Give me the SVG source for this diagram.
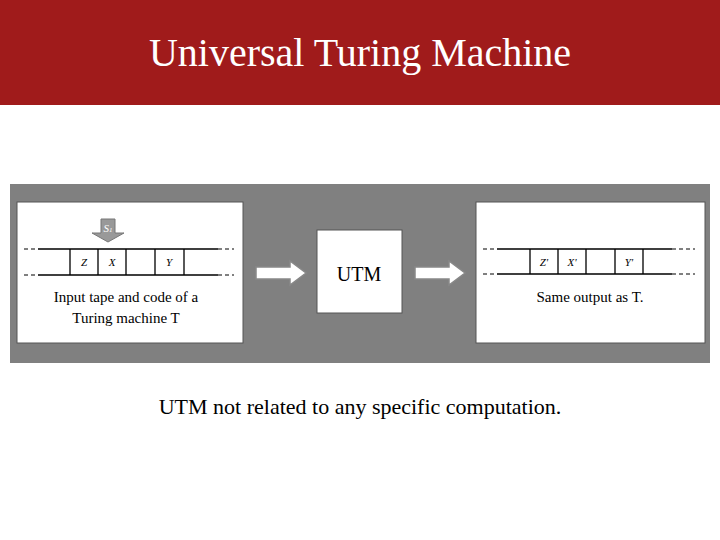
<svg xmlns="http://www.w3.org/2000/svg" width="720" height="540" viewBox="0 0 720 540">
<style>
.t{font-family:"Liberation Serif",serif;fill:#000}
.tape{stroke:#000;stroke-width:1.3;fill:none}
.dash{stroke:#000;stroke-width:1;stroke-dasharray:4,3;fill:none}
.arr{fill:#fff;stroke:#888;stroke-width:1.5}
.it{font-family:"Liberation Serif",serif;font-style:italic;font-size:11px}
</style>
<rect width="720" height="540" fill="#fff"/>
<rect x="0" y="0" width="720" height="105" fill="#a01b1b"/>
<text x="360" y="66" text-anchor="middle" class="t" font-size="40" fill="#fff" style="fill:#fff">Universal Turing Machine</text>
<rect x="10" y="184" width="700" height="179" fill="#808080"/>
<g id="input">
<rect x="17" y="202" width="226" height="141" fill="#fff" stroke="#555"/>
<path class="tape" d="M38 249H218M38 275H218M70 249V275M98 249V275M126 249V275M155 249V275M184 249V275"/>
<path class="dash" d="M24 249H38M218 249H234M24 275H38M218 275H234"/>
<path d="M101 219H115V233H124L108 242L92 233H101Z" fill="#999" stroke="#777"/>
<text x="108" y="232" text-anchor="middle" class="it" fill="#fff" style="fill:#fff">S<tspan font-size="7">1</tspan></text>
<text x="84" y="266" text-anchor="middle" class="it">Z</text>
<text x="112" y="266" text-anchor="middle" class="it">X</text>
<text x="169" y="266" text-anchor="middle" class="it">Y</text>
<text x="126" y="302" text-anchor="middle" class="t" font-size="15">Input tape and code of a</text>
<text x="126" y="323" text-anchor="middle" class="t" font-size="15">Turing machine T</text>
</g>
<g id="utm">
<rect x="317" y="230" width="85" height="83" fill="#fff" stroke="#555"/>
<text x="359" y="281" text-anchor="middle" class="t" font-size="20">UTM</text>
</g>
<g id="output">
<rect x="476" y="202" width="229" height="141" fill="#fff" stroke="#555"/>
<path class="tape" d="M497 249H672M497 274H672M530 249V274M558 249V274M586 249V274M615 249V274M643 249V274"/>
<path class="dash" d="M483 249H497M672 249H695M483 274H497M672 274H695"/>
<text x="544" y="266" text-anchor="middle" class="it">Z'</text>
<text x="572" y="266" text-anchor="middle" class="it">X'</text>
<text x="629" y="266" text-anchor="middle" class="it">Y'</text>
<text x="590" y="302" text-anchor="middle" class="t" font-size="15">Same output as T.</text>
</g>
<g id="connectors">
<path class="arr" d="M256 267H290V261L306 273L290 285V279H256Z"/>
<path class="arr" d="M415 267H449V261L465 273L449 285V279H415Z"/>
</g>
<text x="360" y="414" text-anchor="middle" class="t" font-size="22">UTM not related to any specific computation.</text>
</svg>
